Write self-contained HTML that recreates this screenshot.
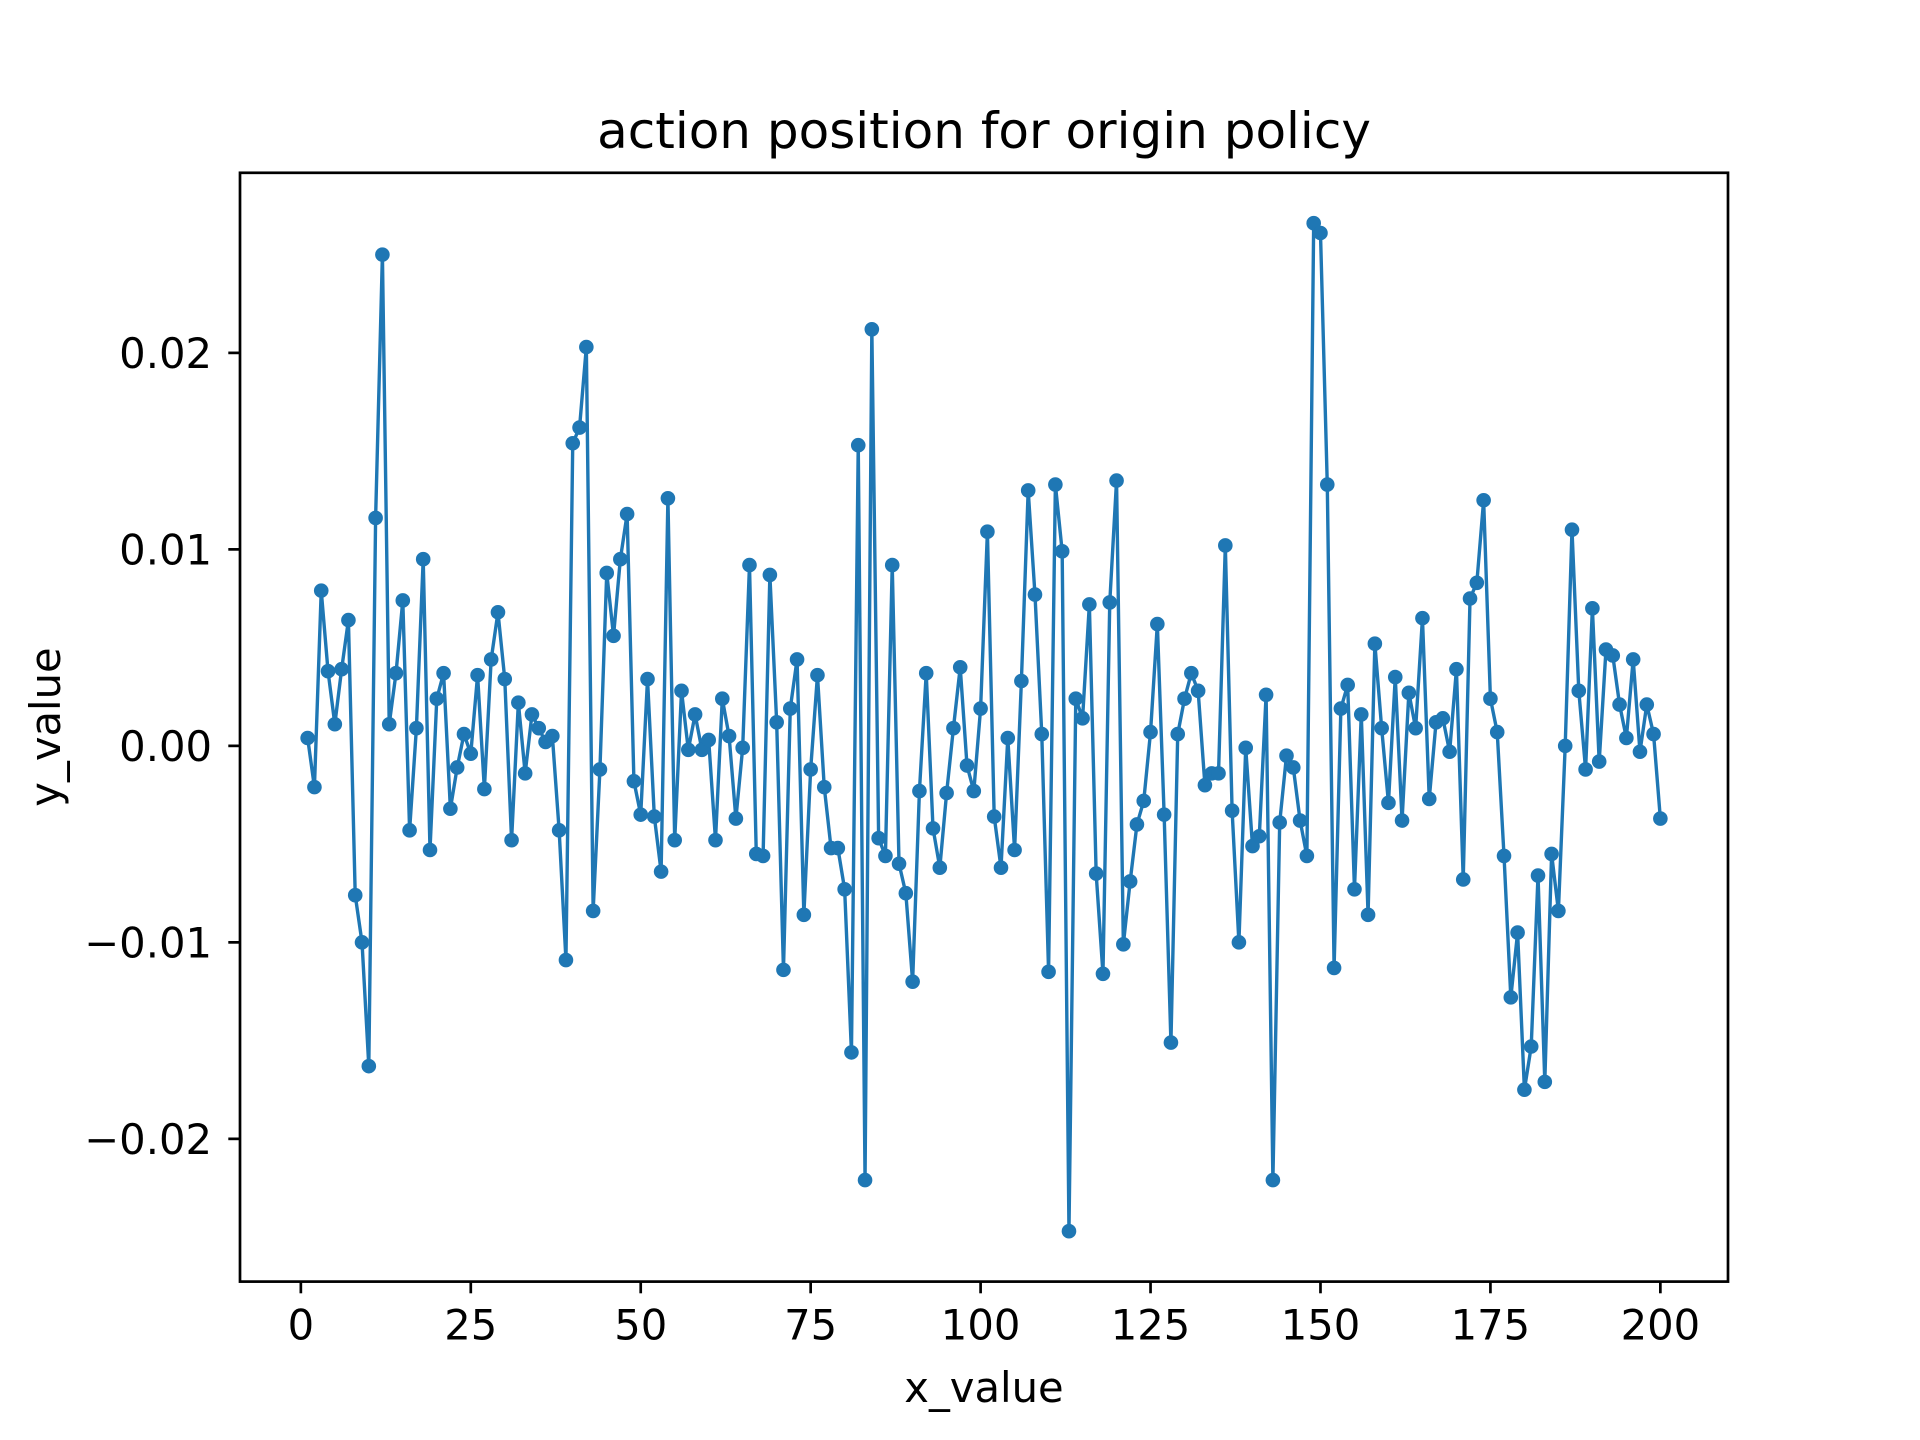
<!DOCTYPE html>
<html><head><meta charset="utf-8"><style>
html,body{margin:0;padding:0;background:#fff;}
svg{display:block;font-family:"DejaVu Sans","Liberation Sans",sans-serif;}
</style></head><body>
<svg id="chart" width="1920" height="1440" viewBox="0 0 1920 1440" xmlns="http://www.w3.org/2000/svg">
<rect width="1920" height="1440" fill="#fff"/>
<text x="984" y="148" font-size="50" text-anchor="middle">action position for origin policy</text>
<g id="plot"></g>
<rect x="240" y="172.8" width="1488" height="1108.8" fill="none" stroke="#000" stroke-width="2.7"/>
<g id="xticks"></g><g id="yticks"></g>
<text x="984" y="1402" font-size="41.7" text-anchor="middle">x_value</text>
<text transform="translate(60,727) rotate(-90)" font-size="41.7" text-anchor="middle">y_value</text>
</svg>
<script>
const yValues=[0.0004,-0.0021,0.0079,0.0038,0.0011,0.0039,0.0064,-0.0076,-0.0100,-0.0163,
0.0116,0.0250,0.0011,0.0037,0.0074,-0.0043,0.0009,0.0095,-0.0053,0.0024,
0.0037,-0.0032,-0.0011,0.0006,-0.0004,0.0036,-0.0022,0.0044,0.0068,0.0034,
-0.0048,0.0022,-0.0014,0.0016,0.0009,0.0002,0.0005,-0.0043,-0.0109,0.0154,
0.0162,0.0203,-0.0084,-0.0012,0.0088,0.0056,0.0095,0.0118,-0.0018,-0.0035,
0.0034,-0.0036,-0.0064,0.0126,-0.0048,0.0028,-0.0002,0.0016,-0.0002,0.0003,
-0.0048,0.0024,0.0005,-0.0037,-0.0001,0.0092,-0.0055,-0.0056,0.0087,0.0012,
-0.0114,0.0019,0.0044,-0.0086,-0.0012,0.0036,-0.0021,-0.0052,-0.0052,-0.0073,
-0.0156,0.0153,-0.0221,0.0212,-0.0047,-0.0056,0.0092,-0.0060,-0.0075,-0.0120,
-0.0023,0.0037,-0.0042,-0.0062,-0.0024,0.0009,0.0040,-0.0010,-0.0023,0.0019,
0.0109,-0.0036,-0.0062,0.0004,-0.0053,0.0033,0.0130,0.0077,0.0006,-0.0115,
0.0133,0.0099,-0.0247,0.0024,0.0014,0.0072,-0.0065,-0.0116,0.0073,0.0135,
-0.0101,-0.0069,-0.0040,-0.0028,0.0007,0.0062,-0.0035,-0.0151,0.0006,0.0024,
0.0037,0.0028,-0.0020,-0.0014,-0.0014,0.0102,-0.0033,-0.0100,-0.0001,-0.0051,
-0.0046,0.0026,-0.0221,-0.0039,-0.0005,-0.0011,-0.0038,-0.0056,0.0266,0.0261,
0.0133,-0.0113,0.0019,0.0031,-0.0073,0.0016,-0.0086,0.0052,0.0009,-0.0029,
0.0035,-0.0038,0.0027,0.0009,0.0065,-0.0027,0.0012,0.0014,-0.0003,0.0039,
-0.0068,0.0075,0.0083,0.0125,0.0024,0.0007,-0.0056,-0.0128,-0.0095,-0.0175,
-0.0153,-0.0066,-0.0171,-0.0055,-0.0084,0.0000,0.0110,0.0028,-0.0012,0.0070,
-0.0008,0.0049,0.0046,0.0021,0.0004,0.0044,-0.0003,0.0021,0.0006,-0.0037];
const xStart=1;
const xTickValues=[0,25,50,75,100,125,150,175,200];
const xTickLabels=["0","25","50","75","100","125","150","175","200"];
const yTickValues=[-0.02,-0.01,0,0.01,0.02];
const yTickLabels=["\u22120.02","\u22120.01","0.00","0.01","0.02"];

const NS="http://www.w3.org/2000/svg";
const L=240,R=1728,T=172.8,B=1281.6;
const xs=yValues.map((v,i)=>xStart+i);
const xmin=Math.min(...xs),xmax=Math.max(...xs);
const xpad=(xmax-xmin)*0.05;
const ymn=Math.min(...yValues),ymx=Math.max(...yValues);
const ypad=(ymx-ymn)*0.05;
const X0=xmin-xpad,X1=xmax+xpad,Y0=ymn-ypad,Y1=ymx+ypad;
function sx(x){return L+(x-X0)/(X1-X0)*(R-L);}
function sy(y){return B-(y-Y0)/(Y1-Y0)*(B-T);}
function mk(tag,attrs){const e=document.createElementNS(NS,tag);for(const k in attrs)e.setAttribute(k,attrs[k]);return e;}
const plot=document.getElementById('plot');
const pts=yValues.map((v,i)=>sx(xs[i]).toFixed(2)+','+sy(v).toFixed(2)).join(' ');
const line=mk('polyline',{points:pts,fill:'none',stroke:'#1f77b4','stroke-width':3.4,'stroke-linejoin':'round'});


plot.appendChild(line);
yValues.forEach((v,i)=>{
 const c=mk('circle',{cx:sx(xs[i]),cy:sy(v),r:7.3,fill:'#1f77b4'});
 
 
 plot.appendChild(c);
});
const xt=document.getElementById('xticks');
xTickValues.forEach((v,i)=>{
 const x=sx(v);
 const t=mk('line',{x1:x,x2:x,y1:B,y2:B+11.7,stroke:'#000','stroke-width':2.7});
 
 
 xt.appendChild(t);
 const s=mk('text',{x:x,y:B+58,'font-size':41.7,'text-anchor':'middle'});
 
 
 s.textContent=xTickLabels[i];xt.appendChild(s);
});
const yt=document.getElementById('yticks');
yTickValues.forEach((v,i)=>{
 const y=sy(v);
 const t=mk('line',{x1:L-11.7,x2:L,y1:y,y2:y,stroke:'#000','stroke-width':2.7});
 
 
 yt.appendChild(t);
 const s=mk('text',{x:L-28,y:y+15,'font-size':41.7,'text-anchor':'end'});
 
 
 s.textContent=yTickLabels[i];yt.appendChild(s);
});
</script>
</body></html>
